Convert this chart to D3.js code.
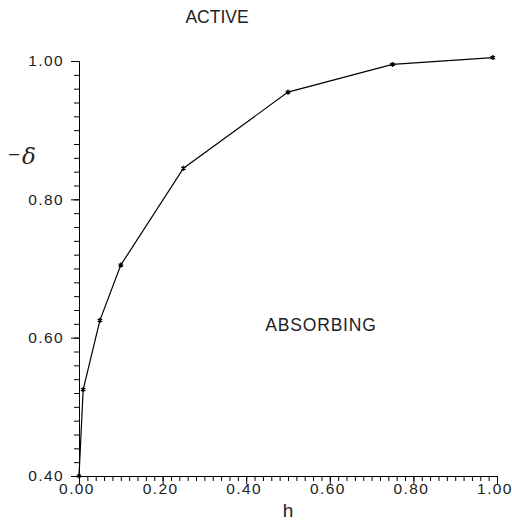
<!DOCTYPE html>
<html><head><meta charset="utf-8">
<script src="https://cdn.jsdelivr.net/npm/d3@7"></script>
<style>body{margin:0;background:#fff}</style>
</head><body>
<script>
const hValues = [0.0, 0.01, 0.05, 0.10, 0.25, 0.50, 0.75, 0.99];
const deltaValues = [0.40, 0.525, 0.625, 0.705, 0.845, 0.955, 0.995, 1.005];
const xTickValues = [0.0, 0.2, 0.4, 0.6, 0.8, 1.0];
const yTickValues = [0.4, 0.6, 0.8, 1.0];
const regionLabels = ["ACTIVE", "ABSORBING"];

const W = 512, H = 520;
const svg = d3.select("body").append("svg").attr("width", W).attr("height", H);
const x = d3.scaleLinear().domain([0, 1]).range([79, 497]);
const y = d3.scaleLinear().domain([0.4, 1.0]).range([476, 61]);
const fontFam = "'Liberation Sans', Arial, sans-serif";
const txt = "#222";

const minor = d3.range(0, 51).map(i => i * 0.02);
const minorY = d3.range(0, 31).map(i => 0.4 + i * 0.02);

const gx = svg.append("g").attr("transform", `translate(0,${y(0.4)})`);
gx.call(d3.axisBottom(x).tickValues(minor).tickSize(5).tickFormat("").tickSizeOuter(0));
gx.append("g").call(d3.axisBottom(x).tickValues(xTickValues).tickSize(8).tickFormat(d3.format(".2f")).tickSizeOuter(0));
const gy = svg.append("g").attr("transform", `translate(${x(0)},0)`);
gy.call(d3.axisLeft(y).tickValues(minorY).tickSize(5).tickFormat("").tickSizeOuter(0));
gy.append("g").call(d3.axisLeft(y).tickValues(yTickValues).tickSize(8).tickFormat(d3.format(".2f")).tickSizeOuter(0));

svg.selectAll(".domain").attr("stroke", "#000");
svg.selectAll(".tick line").attr("stroke", "#000");
svg.selectAll(".tick text").attr("font-family", fontFam).attr("font-size", 15.5)
  .attr("letter-spacing", "1.4px").attr("fill", txt);
gx.selectAll(".tick text").attr("dy", "0.75em").attr("y", 6).attr("dx", -2.5);
gy.selectAll(".tick text").attr("x", -15);

const pts = hValues.map((h, i) => [h, deltaValues[i]]);
svg.append("path").datum(pts)
  .attr("d", d3.line().x(d => x(d[0])).y(d => y(d[1])))
  .attr("fill", "none").attr("stroke", "#000").attr("stroke-width", 1.2);

svg.selectAll(".m").data(pts).enter().append("path")
  .attr("transform", d => `translate(${x(d[0])},${y(d[1])})`)
  .attr("d", d3.symbol(d3.symbolAsterisk, 18)())
  .attr("fill", "none").attr("stroke", "#000").attr("stroke-width", 1.3);

svg.append("text").attr("x", 217).attr("y", 23).attr("text-anchor", "middle")
  .attr("font-family", fontFam).attr("font-size", 17.5).attr("fill", txt).text(regionLabels[0]);
svg.append("text").attr("x", 321).attr("y", 331).attr("text-anchor", "middle")
  .attr("font-family", fontFam).attr("font-size", 17.5).attr("letter-spacing", "0.8px").attr("fill", txt).text(regionLabels[1]);

// axis titles
svg.append("text").attr("x", 288).attr("y", 517).attr("text-anchor", "middle")
  .attr("font-family", fontFam).attr("font-size", 19).attr("fill", txt).text("h");
const minus = svg.append("text").attr("x", 0).attr("y", 0).attr("font-family", fontFam)
  .attr("font-size", 16).attr("fill", txt).text("−");
const bb = minus.node().getBBox();
const sx = 12 / Math.max(bb.width, 1);
minus.attr("transform", `translate(${8 - bb.x * sx},160) scale(${sx},1)`);
svg.append("text").attr("x", 22).attr("y", 164).attr("font-family", "'DejaVu Serif', serif")
  .attr("font-style", "italic").attr("font-size", 23).attr("fill", txt).text("δ");
</script>
</body></html>
